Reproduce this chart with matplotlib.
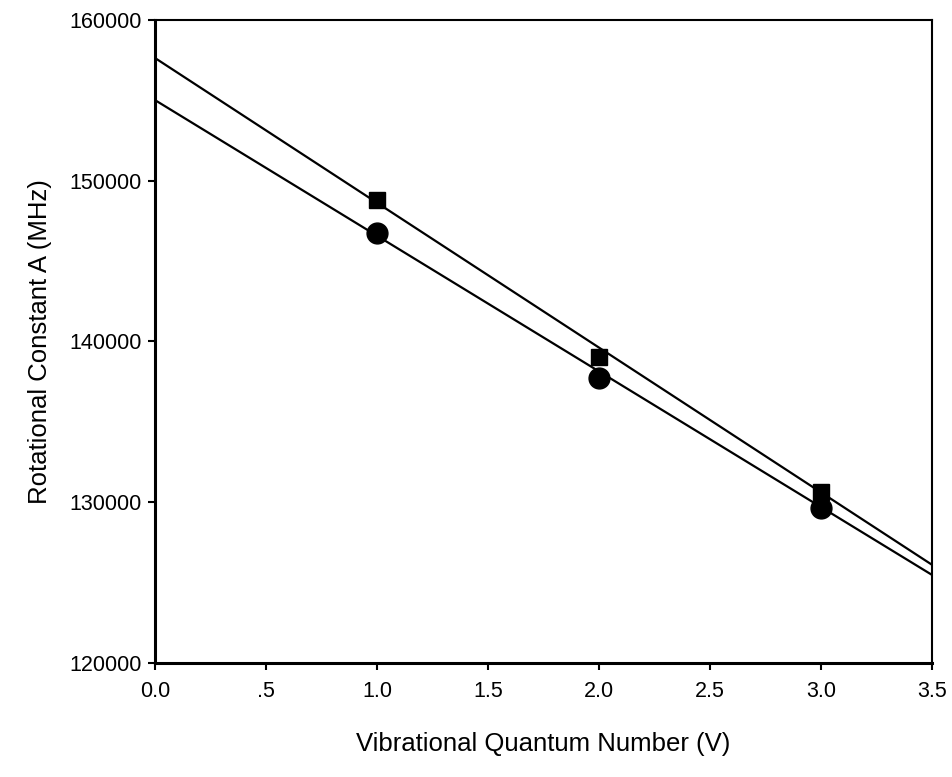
import numpy as np
import matplotlib.pyplot as plt

plt.rcParams['font.family'] = ['Liberation Sans', 'DejaVu Sans']

# measured points
v = [1.0, 2.0, 3.0]
a_square = [148800, 139050, 130650]
a_circle = [146750, 137750, 129650]

# fitted lines (end points)
fit_v = [0.0, 3.5]
fit_square = [157640, 126100]
fit_circle = [155020, 125470]

xticks = [0.0, 0.5, 1.0, 1.5, 2.0, 2.5, 3.0, 3.5]
xticklabels = ['0.0', '.5', '1.0', '1.5', '2.0', '2.5', '3.0', '3.5']
yticks = [120000, 130000, 140000, 150000, 160000]

fig = plt.figure(figsize=(9.52, 7.77), dpi=100)
ax = fig.add_axes([0.163, 0.147, 0.816, 0.827])

ax.plot(fit_v, fit_square, color='black', lw=1.6)
ax.plot(fit_v, fit_circle, color='black', lw=1.6)
ax.plot(v, a_square, 's', color='black', ms=11)
ax.plot(v, a_circle, 'o', color='black', ms=15)

ax.set_xlim(0, 3.5)
ax.set_ylim(120000, 160000)
ax.set_xticks(xticks)
ax.set_xticklabels(xticklabels)
ax.set_yticks(yticks)
ax.tick_params(direction='out', length=5, width=1.5, labelsize=15.5, pad=5)
ax.tick_params(axis='x', pad=8)

for side in ['left', 'bottom']:
    ax.spines[side].set_linewidth(2.2)
for side in ['top', 'right']:
    ax.spines[side].set_linewidth(1.5)

ax.set_xlabel('Vibrational Quantum Number (V)', fontsize=18.5, labelpad=22)
ax.set_ylabel('Rotational Constant A (MHz)', fontsize=18.5, labelpad=12)

fig.savefig('out.png', dpi=100)
